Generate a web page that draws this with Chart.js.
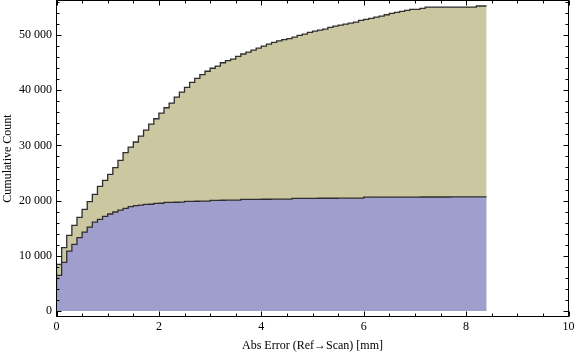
<!DOCTYPE html>
<html>
<head>
<meta charset="utf-8">
<script src="https://cdn.jsdelivr.net/npm/chart.js@4.4.1/dist/chart.umd.min.js"></script>
<style>
  html, body { margin: 0; padding: 0; background: #fff; }
  canvas { display: block; }
</style>
</head>
<body>
<canvas id="chartCumulative" width="576" height="357"></canvas>
<script>
// cumulative histogram, bins of 0.1 mm from 0 to 8.4
const binWidth = 0.1;

const totalCounts = [
    4650, 8450, 11470, 13700, 15520, 16960, 18410, 19800, 21130, 22580,
    23660, 24750, 25960, 27280, 28680, 29700, 30610, 31690, 32780, 33860,
    34830, 35860, 36820, 37670, 38750, 39660, 40510, 41420, 42130, 42830,
    43430, 43980, 44370, 44970, 45370, 45640, 46110, 46560, 46910, 47260,
    47610, 48000, 48350, 48650, 48950, 49150, 49350, 49600, 49920, 50160,
    50470, 50700, 50880, 51060, 51370, 51610, 51790, 51970, 52150, 52340,
    52640, 52820, 53000, 53240, 53430, 53670, 53900, 54100, 54290, 54470,
    54650, 54650, 54830, 55050, 55050, 55050, 55050, 55050, 55050, 55050,
    55050, 55050, 55050, 55250,
];

const subsetCounts = [
    3570, 6460, 8810, 10850, 12070, 13280, 14300, 15210, 16110, 16600,
    17140, 17570, 17930, 18290, 18600, 18890, 19070, 19190, 19320, 19340,
    19500, 19520, 19680, 19690, 19700, 19710, 19860, 19870, 19880, 19890,
    19900, 20040, 20050, 20060, 20070, 20080, 20090, 20220, 20220, 20230,
    20230, 20240, 20240, 20250, 20250, 20260, 20260, 20400, 20400, 20410,
    20410, 20410, 20420, 20420, 20420, 20420, 20430, 20430, 20430, 20440,
    20440, 20620, 20620, 20630, 20630, 20630, 20630, 20640, 20640, 20640,
    20640, 20640, 20650, 20650, 20650, 20650, 20650, 20650, 20660, 20660,
    20660, 20660, 20660, 20660,
];

const xTickValues = [0, 2, 4, 6, 8, 10];
const yTickValues = [0, 10000, 20000, 30000, 40000, 50000];
const xMinorStep = 0.5;
const yMinorStep = 2000;

const serif = "'Liberation Serif', 'DejaVu Serif', serif";

const toSteps = (counts) => {
    const pts = counts.map((v, i) => ({ x: i * binWidth, y: v }));
    pts.push({ x: counts.length * binWidth, y: counts[counts.length - 1] });
    return pts;
};

const fmtCount = (v) => {
    if (v < 1000) return String(v);
    return Math.floor(v / 1000) + " " + String(v % 1000).padStart(3, "0");
};

// frame with inward ticks on all four sides
const framePlugin = {
    id: "frame",
    afterDraw(chart) {
        const { ctx, chartArea: a, scales } = chart;
        const sx = scales.x, sy = scales.y;
        ctx.save();
        ctx.strokeStyle = "#000";
        ctx.lineWidth = 1;
        ctx.strokeRect(a.left, a.top, a.right - a.left, a.bottom - a.top);

        ctx.beginPath();
        for (let v = sx.min; v <= sx.max + 1e-9; v += xMinorStep) {
            const major = xTickValues.some((t) => Math.abs(t - v) < 1e-6);
            const len = major ? 5 : 3;
            const px = Math.round(sx.getPixelForValue(v)) + 0.5;
            ctx.moveTo(px, a.bottom);
            ctx.lineTo(px, a.bottom - len);
            ctx.moveTo(px, a.top);
            ctx.lineTo(px, a.top + len);
        }
        for (let v = 0; v <= sy.max; v += yMinorStep) {
            const major = yTickValues.includes(v);
            const len = major ? 5 : 3;
            const py = Math.round(sy.getPixelForValue(v)) + 0.5;
            ctx.moveTo(a.left, py);
            ctx.lineTo(a.left + len, py);
            ctx.moveTo(a.right, py);
            ctx.lineTo(a.right - len, py);
        }
        ctx.stroke();
        ctx.restore();
    },
};

// fixed plot box, no extra label padding
const fixBox = (w, h) => (s) => {
    if (w != null) s.width = w;
    if (h != null) s.height = h;
    s.paddingTop = 0;
    s.paddingBottom = 0;
    s.paddingLeft = 0;
    s.paddingRight = 0;
};

const canvas = document.getElementById("chartCumulative");

new Chart(canvas, {
    type: "line",
    data: {
        datasets: [
            {
                label: "subset",
                data: toSteps(subsetCounts),
                stepped: "after",
                fill: "origin",
                backgroundColor: "#a09ecc",
                borderColor: "#2e2e2e",
                borderWidth: 1.3,
                pointRadius: 0,
            },
            {
                label: "all",
                data: toSteps(totalCounts),
                stepped: "after",
                fill: "origin",
                backgroundColor: "#cbc7a0",
                borderColor: "#2e2e2e",
                borderWidth: 1.3,
                pointRadius: 0,
            },
        ],
    },
    options: {
        responsive: false,
        animation: false,
        devicePixelRatio: 1,
        layout: { padding: { top: 0.5, right: 7.5, left: 0, bottom: 0 } },
        plugins: {
            legend: { display: false },
            tooltip: { enabled: false },
        },
        scales: {
            x: {
                type: "linear",
                min: 0,
                max: 10,
                grid: { display: false, drawTicks: false },
                border: { display: false },
                afterBuildTicks: (s) => { s.ticks = xTickValues.map((v) => ({ value: v })); },
                afterFit: fixBox(null, 40.5),
                ticks: {
                    padding: 3,
                    color: "#000",
                    font: { family: serif, size: 12 },
                    maxRotation: 0,
                    callback: (v) => String(v),
                },
                title: {
                    display: true,
                    text: "Abs Error (Ref→Scan) [mm]",
                    color: "#000",
                    font: { family: serif, size: 12 },
                    padding: { top: 0, bottom: 4 },
                },
            },
            y: {
                type: "linear",
                min: -1000,
                max: 56250,
                grid: { display: false, drawTicks: false },
                border: { display: false },
                afterBuildTicks: (s) => { s.ticks = yTickValues.map((v) => ({ value: v })); },
                afterFit: fixBox(56.5, null),
                ticks: {
                    padding: 4.5,
                    color: "#000",
                    font: { family: serif, size: 12 },
                    callback: (v) => fmtCount(v),
                },
                title: {
                    display: true,
                    text: "Cumulative Count",
                    color: "#000",
                    font: { family: serif, size: 12 },
                    padding: { top: 0.5, bottom: 0 },
                },
            },
        },
    },
    plugins: [framePlugin],
});
</script>
</body>
</html>
